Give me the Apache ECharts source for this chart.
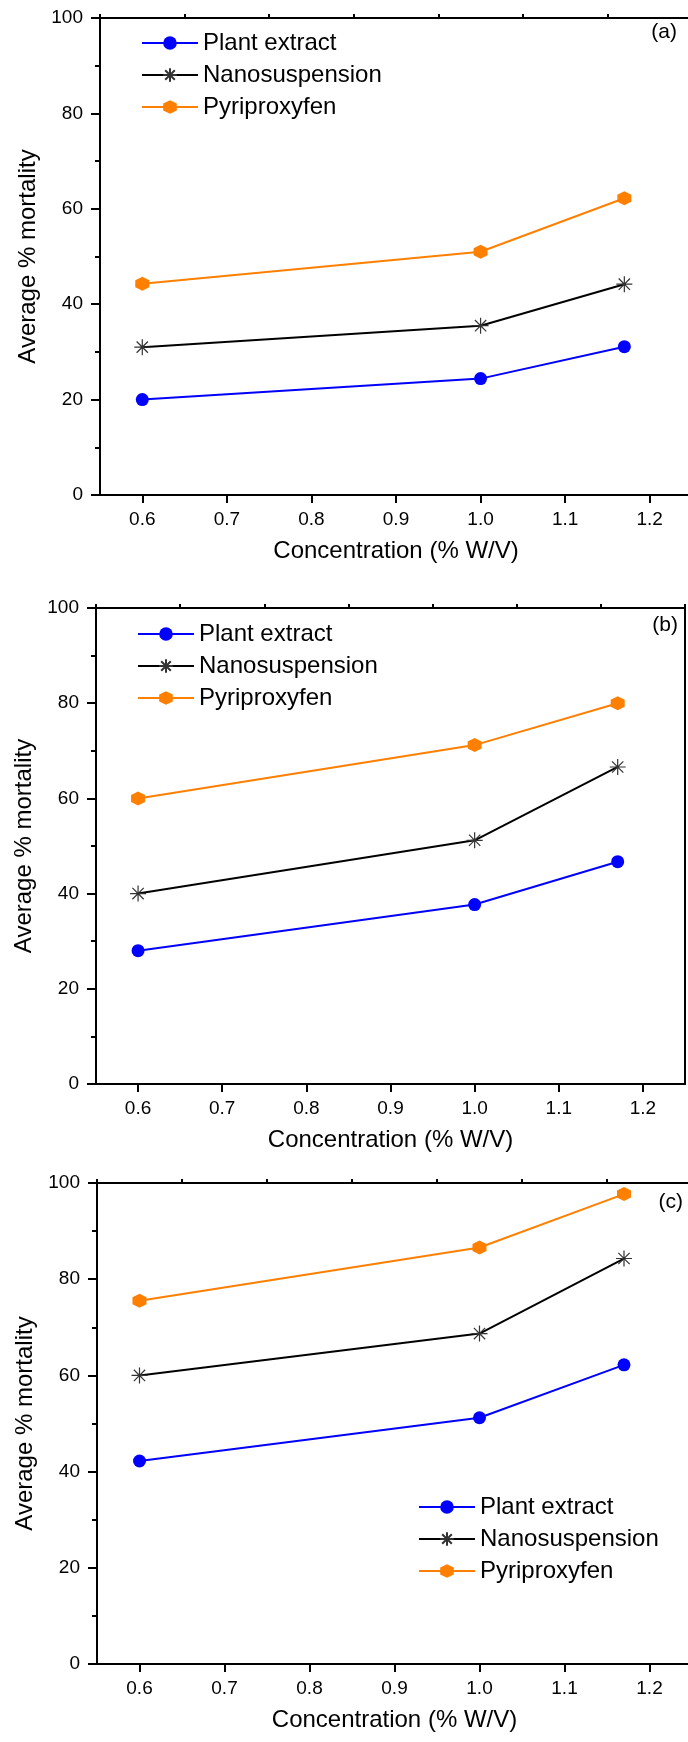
<!DOCTYPE html>
<html>
<head>
<meta charset="utf-8">
<script src="https://cdn.jsdelivr.net/npm/echarts@6/dist/echarts.min.js"></script>
<style>
html,body{margin:0;padding:0;background:#fff;}
#chart{width:688px;height:1742px;}
</style>
</head>
<body>
<div id="chart"></div>
<script>
// ---- data ----
const seriesNames = ['Plant extract', 'Nanosuspension', 'Pyriproxyfen'];
const concentrations = [0.6, 1.0, 1.17];
const panelLabels = ['(a)', '(b)', '(c)'];

const plantA = [20.0, 24.4, 31.1];
const nanoA  = [31.0, 35.5, 44.2];
const pyriA  = [44.3, 51.0, 62.2];

const plantB = [28.0, 37.7, 46.7];
const nanoB  = [40.0, 51.2, 66.6];
const pyriB  = [60.0, 71.2, 80.0];

const plantC = [42.2, 51.2, 62.2];
const nanoC  = [60.0, 68.7, 84.3];
const pyriC  = [75.5, 86.6, 97.7];

const xMajorTicks = [0.6, 0.7, 0.8, 0.9, 1.0, 1.1, 1.2];
const xMinorTicks = [0.55, 0.65, 0.75, 0.85, 0.95, 1.05, 1.15, 1.25];
const yTicks = [0, 20, 40, 60, 80, 100];

const xTitle = 'Concentration (% W/V)';
const yTitle = 'Average % mortality';

const panels = [
  {plant: plantA, nano: nanoA, pyri: pyriA},
  {plant: plantB, nano: nanoB, pyri: pyriB},
  {plant: plantC, nano: nanoC, pyri: pyriC}
];

// ---- layout / style ----
const FONT = '"Liberation Sans", Arial, Helvetica, sans-serif';
const grids = [
  {left: 100, top: 18, width: 592, height: 477},
  {left: 96, top: 608, width: 589, height: 476},
  {left: 97, top: 1183, width: 595, height: 481}
];
const legendPos = [
  {left: 141, top: 31},
  {left: 137, top: 622},
  {left: 418, top: 1495}
];
const labelPos = [
  {x: 677, y: 33},
  {x: 678, y: 626},
  {x: 683, y: 1203}
];
const colors = {plant: '#0000ff', nano: '#000000', pyri: '#ff7f00'};
const hexPath = 'path://M0,-1L0.866,-0.5L0.866,0.5L0,1L-0.866,0.5L-0.866,-0.5Z';
const starPath = 'path://M-1,0L1,0M0,-1L0,1M-0.707,-0.707L0.707,0.707M-0.707,0.707L0.707,-0.707';

const xAxes = [], yAxes = [], series = [], legends = [], graphics = [];

grids.forEach((g, i) => {
  xAxes.push({
    type: 'value', gridIndex: i, min: 0.55, max: 1.25,
    name: xTitle, nameLocation: 'middle', nameGap: 44,
    nameTextStyle: {fontFamily: FONT, fontSize: 24, color: '#000'},
    axisLine: {show: true, onZero: false, lineStyle: {color: '#000', width: 2}},
    axisTick: {show: true, length: 8, customValues: xMajorTicks, lineStyle: {color: '#000', width: 2}},
    axisLabel: {show: true, customValues: xMajorTicks, margin: 15, fontFamily: FONT, fontSize: 19, color: '#000',
      formatter: v => Number(v).toFixed(1)},
    splitLine: {show: false}
  });
  xAxes.push({
    type: 'value', gridIndex: i, min: 0.55, max: 1.25,
    axisLine: {show: false, onZero: false},
    axisTick: {show: true, length: 4, customValues: xMinorTicks, lineStyle: {color: '#000', width: 2}},
    axisLabel: {show: false},
    splitLine: {show: false}
  });
  yAxes.push({
    type: 'value', gridIndex: i, min: 0, max: 100, interval: 20,
    name: yTitle, nameLocation: 'middle', nameGap: 60,
    nameTextStyle: {fontFamily: FONT, fontSize: 24, color: '#000'},
    axisLine: {show: true, onZero: false, lineStyle: {color: '#000', width: 2}},
    axisTick: {show: true, length: 9, lineStyle: {color: '#000', width: 2}},
    minorTick: {show: true, splitNumber: 2, length: 5, lineStyle: {color: '#000', width: 2}},
    axisLabel: {margin: 17, fontFamily: FONT, fontSize: 19, color: '#000'},
    splitLine: {show: false}
  });

  const p = panels[i];
  const mk = (name, vals, color, symbol, size, itemStyle) => ({
    name: name, type: 'line', xAxisIndex: i * 2, yAxisIndex: i,
    data: concentrations.map((c, k) => [c, vals[k]]),
    symbol: symbol, symbolSize: size, showSymbol: true,
    lineStyle: {color: color, width: 2},
    itemStyle: itemStyle,
    emphasis: {disabled: true},
    animation: false, z: 3
  });
  series.push(mk(seriesNames[0], p.plant, colors.plant, 'circle', 13, {color: colors.plant}));
  series.push(mk(seriesNames[1], p.nano, colors.nano, starPath, 16, {color: 'rgba(0,0,0,0)', borderColor: '#333', borderWidth: 1.2}));
  series.push(mk(seriesNames[2], p.pyri, colors.pyri, hexPath, 14, {color: colors.pyri}));

  legends.push({
    show: true, orient: 'vertical', left: legendPos[i].left, top: legendPos[i].top,
    data: seriesNames, itemWidth: 56, itemHeight: 17, itemGap: 8, itemTextGap: 7,
    padding: 0, selectedMode: false,
    textStyle: {fontFamily: FONT, fontSize: 24, color: '#000'}
  });

  graphics.push({
    type: 'text', right: 688 - labelPos[i].x, top: labelPos[i].y - 11,
    style: {text: panelLabels[i], font: '21px ' + FONT, fill: '#000'}
  });
});

const chart = echarts.init(document.getElementById('chart'), null, {renderer: 'canvas'});
chart.setOption({
  backgroundColor: '#fff',
  animation: false,
  grid: grids.map(g => Object.assign({show: true, borderColor: '#000', borderWidth: 2, backgroundColor: 'transparent', containLabel: false, outerBoundsMode: 'none'}, g)),
  xAxis: xAxes,
  yAxis: yAxes,
  legend: legends,
  series: series,
  graphic: graphics
});
</script>
</body>
</html>
